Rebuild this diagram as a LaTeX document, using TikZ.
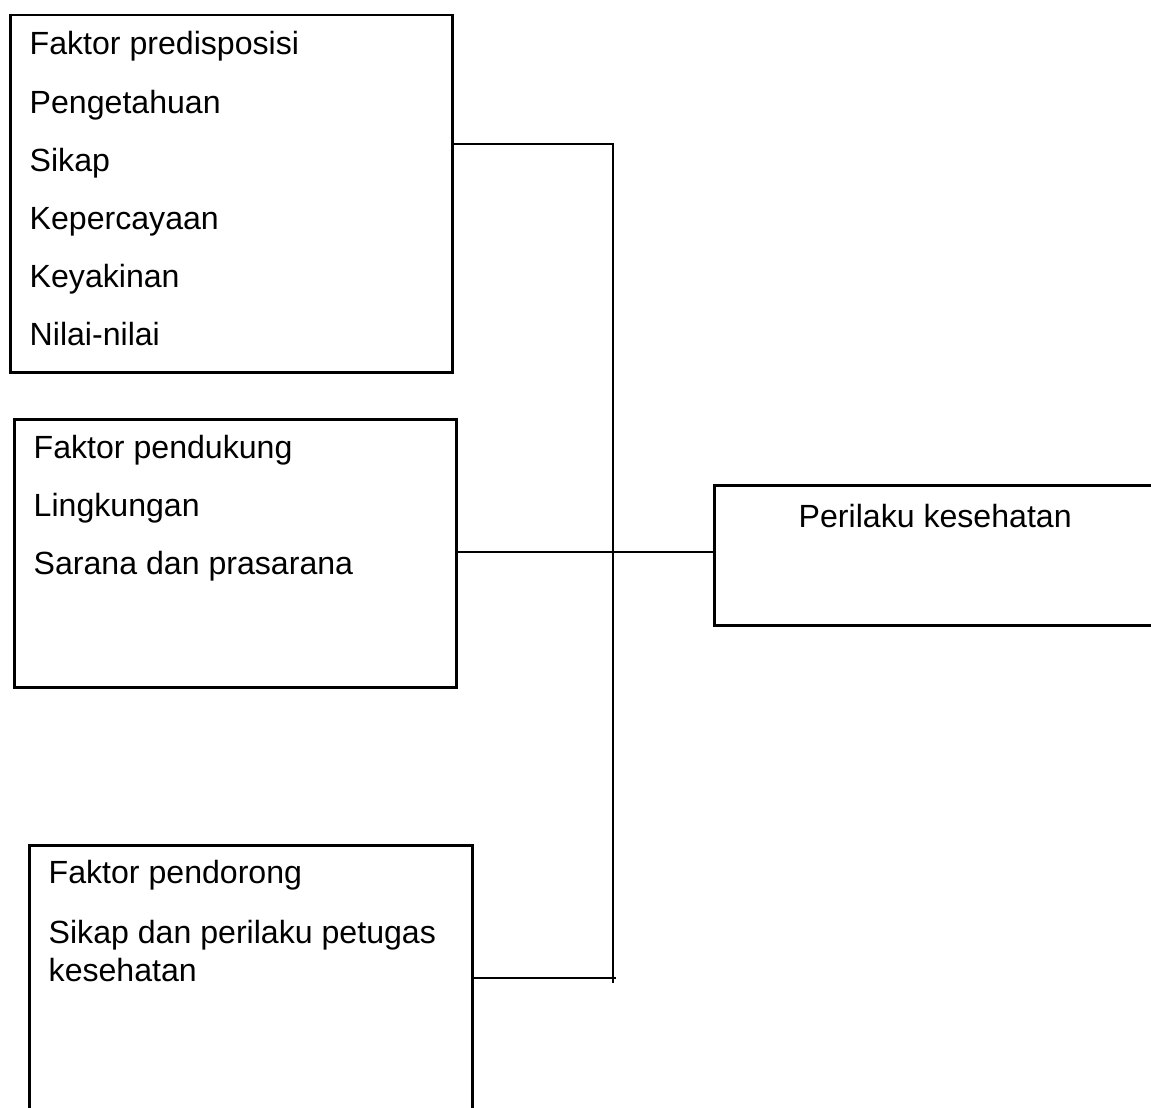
\documentclass[tikz,border=0pt]{standalone}
\usepackage{fontspec}
\setmainfont{Liberation Sans}
\begin{document}
\begin{tikzpicture}[x=1pt,y=-1pt,
  box/.style={draw=black,line width=2.5pt,rectangle,inner sep=0pt,anchor=north west},
  txt/.style={anchor=base west,inner sep=0pt,font=\fontsize{32.1}{38}\selectfont},
  conn/.style={draw=black,line width=1.2pt}]
\useasboundingbox (0,0) rectangle (1151,1108);
\clip (0,0) rectangle (1151,1108);
% boxes
\node[box,minimum width=442pt,minimum height=357pt] (b1) at (9,14) {};
\node[box,minimum width=442pt,minimum height=268pt] (b2) at (13,418) {};
\node[box,minimum width=443pt,minimum height=290pt] (b3) at (28,844) {};
\node[box,minimum width=460pt,minimum height=140pt] (b4) at (713,484) {};
% texts box 1
\node[txt] (t11) at (29.5,55) {Faktor predisposisi};
\node[txt] (t12) at (29.5,113) {Pengetahuan};
\node[txt] (t13) at (29.5,171) {Sikap};
\node[txt] (t14) at (29.5,229) {Kepercayaan};
\node[txt] (t15) at (29.5,287) {Keyakinan};
\node[txt] (t16) at (29.5,345) {Nilai-nilai};
% texts box 2
\node[txt] (t21) at (33.5,458) {Faktor pendukung};
\node[txt] (t22) at (33.5,516) {Lingkungan};
\node[txt] (t23) at (33.5,574) {Sarana dan prasarana};
% texts box 3
\node[txt] (t31) at (48.5,883) {Faktor pendorong};
\node[txt] (t32) at (48.5,943) {Sikap dan perilaku petugas};
\node[txt] (t33) at (48.5,981) {kesehatan};
% text box 4
\node[txt] (t41) at (798.5,527) {Perilaku kesehatan};
% connectors
\coordinate (bustop) at (613,143);
\coordinate (busbot) at (613,983);
\coordinate (busmid) at (613,552);
\coordinate (bustopl) at (613,144);
\coordinate (busend) at (616,978);
\draw[conn] (b1.east |- bustopl) -- (bustopl);
\draw[conn] (bustop) -- (busbot);
\draw[conn] (b2.east |- busmid) -- (b4.west |- busmid);
\draw[conn] (b3.east |- busend) -- (busend);
\end{tikzpicture}
\end{document}
